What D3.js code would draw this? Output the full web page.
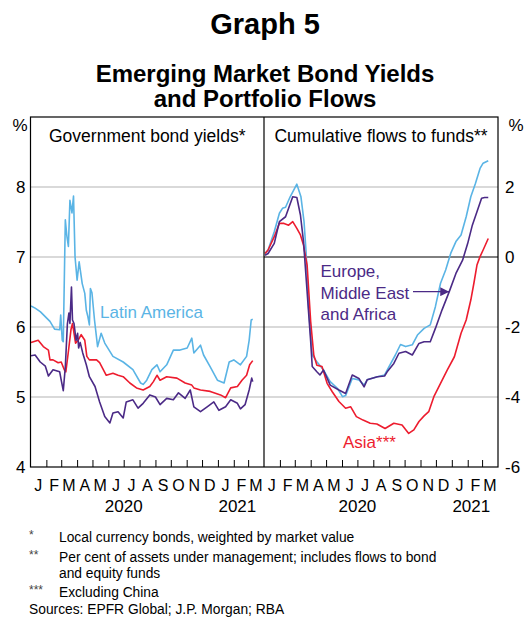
<!DOCTYPE html>
<html><head><meta charset="utf-8">
<script src="https://cdn.jsdelivr.net/npm/d3@7"></script>
<style>body{margin:0;background:#fff} svg{display:block} text{font-family:"Liberation Sans",Arial,Helvetica,sans-serif}</style>
</head><body><svg id="c" width="530" height="623"></svg>
<script>
// ---------- data ----------
const monthLetters = ["J","F","M","A","M","J","J","A","S","O","N","D","J","F","M"];
const yearLabels = [["2020","2020-07-01"],["2021","2021-02-08"]];
const yieldTicks = [4,5,6,7,8];
const flowTicks = [-6,-4,-2,0,2];

// Government bond yields (%)
const latamYield = [["2020-01-02",6.30],["2020-01-10",6.27],["2020-01-20",6.22],["2020-02-08",6.08],["2020-02-17",5.97],["2020-02-27",5.96],["2020-02-29",6.17],["2020-03-03",5.81],["2020-03-05",5.79],["2020-03-09",7.53],["2020-03-12",7.30],["2020-03-15",7.15],["2020-03-18",7.81],["2020-03-22",7.63],["2020-03-25",7.87],["2020-03-28",7.00],["2020-04-01",6.67],["2020-04-05",6.93],["2020-04-11",6.62],["2020-04-16",6.48],["2020-04-19",6.24],["2020-04-22",6.15],["2020-04-25",6.03],["2020-04-27",6.55],["2020-04-30",6.49],["2020-05-05",6.10],["2020-05-11",5.72],["2020-05-18",5.91],["2020-05-25",5.77],["2020-06-10",5.58],["2020-06-30",5.50],["2020-07-19",5.39],["2020-08-03",5.20],["2020-08-08",5.18],["2020-08-15",5.24],["2020-08-25",5.39],["2020-09-04",5.46],["2020-09-10",5.36],["2020-09-23",5.46],["2020-10-06",5.67],["2020-10-19",5.67],["2020-11-02",5.70],["2020-11-11",5.84],["2020-11-15",5.63],["2020-11-28",5.74],["2020-12-04",5.60],["2020-12-17",5.43],["2020-12-31",5.24],["2021-01-13",5.20],["2021-01-23",5.50],["2021-02-01",5.53],["2021-02-14",5.46],["2021-02-26",5.58],["2021-03-03",5.81],["2021-03-07",6.10],["2021-03-10",6.11]];
const asiaYield = [["2020-01-02",5.78],["2020-01-16",5.81],["2020-01-26",5.72],["2020-02-05",5.67],["2020-02-08",5.53],["2020-02-14",5.53],["2020-02-24",5.49],["2020-03-01",5.50],["2020-03-07",5.39],["2020-03-10",5.36],["2020-03-15",5.65],["2020-03-20",5.96],["2020-03-23",6.05],["2020-03-29",5.77],["2020-04-03",5.81],["2020-04-09",5.89],["2020-04-16",5.81],["2020-04-20",5.58],["2020-04-25",5.53],["2020-05-09",5.53],["2020-05-15",5.49],["2020-05-28",5.31],["2020-06-10",5.34],["2020-06-20",5.31],["2020-06-30",5.29],["2020-07-13",5.20],["2020-07-26",5.13],["2020-08-08",5.10],["2020-08-21",5.15],["2020-08-28",5.22],["2020-09-04",5.31],["2020-09-10",5.24],["2020-09-23",5.29],["2020-10-13",5.27],["2020-10-29",5.20],["2020-11-11",5.17],["2020-11-15",5.13],["2020-11-28",5.10],["2020-12-17",5.08],["2021-01-06",5.03],["2021-01-16",4.99],["2021-01-26",5.13],["2021-02-08",5.15],["2021-02-17",5.24],["2021-02-26",5.31],["2021-03-04",5.46],["2021-03-10",5.52]];
const emeaYield = [["2020-01-02",5.59],["2020-01-10",5.60],["2020-01-20",5.50],["2020-01-30",5.44],["2020-02-05",5.30],["2020-02-14",5.39],["2020-02-27",5.36],["2020-03-01",5.24],["2020-03-05",5.09],["2020-03-09",5.43],["2020-03-13",6.04],["2020-03-16",6.20],["2020-03-18",6.05],["2020-03-21",6.57],["2020-03-23",6.10],["2020-03-26",6.05],["2020-03-30",5.81],["2020-04-02",5.91],["2020-04-04",5.70],["2020-04-07",5.78],["2020-04-12",5.63],["2020-04-19",5.46],["2020-04-25",5.29],["2020-05-06",5.15],["2020-05-15",4.93],["2020-05-25",4.72],["2020-06-04",4.63],["2020-06-10",4.77],["2020-06-20",4.79],["2020-06-30",4.70],["2020-07-06",4.93],["2020-07-19",4.96],["2020-07-29",4.84],["2020-08-08",4.91],["2020-08-21",5.03],["2020-09-01",5.00],["2020-09-10",4.89],["2020-09-23",4.98],["2020-10-06",4.96],["2020-10-16",5.06],["2020-10-29",4.98],["2020-11-08",5.10],["2020-11-15",4.86],["2020-11-28",4.79],["2020-12-11",4.86],["2020-12-24",4.93],["2021-01-03",4.81],["2021-01-16",4.86],["2021-01-26",4.96],["2021-02-08",4.91],["2021-02-14",4.83],["2021-02-23",4.89],["2021-03-03",5.10],["2021-03-08",5.27],["2021-03-10",5.22]];

// Cumulative flows to funds (% of AUM)
const latamFlow = [["2020-01-03",0.10],["2020-01-09",0.20],["2020-01-21",0.72],["2020-01-31",1.25],["2020-02-06",1.39],["2020-02-12",1.42],["2020-02-21",1.72],["2020-03-05",2.08],["2020-03-13",1.72],["2020-03-19",1.01],["2020-03-23",0.15],["2020-03-28",-1.47],["2020-04-04",-2.80],["2020-04-13",-2.99],["2020-04-26",-3.23],["2020-05-09",-3.56],["2020-05-23",-3.75],["2020-06-02",-3.99],["2020-06-08",-3.96],["2020-06-21",-3.47],["2020-07-04",-3.51],["2020-07-14",-3.66],["2020-07-20",-3.51],["2020-08-09",-3.42],["2020-08-23",-3.37],["2020-09-13",-2.80],["2020-09-23",-2.50],["2020-10-03",-2.56],["2020-10-16",-2.51],["2020-10-26",-2.23],["2020-11-08",-2.04],["2020-11-20",-1.94],["2020-11-30",-1.42],["2020-12-10",-0.75],["2020-12-20",-0.37],["2020-12-30",0.11],["2021-01-09",0.44],["2021-01-19",0.63],["2021-01-29",1.15],["2021-02-07",1.72],["2021-02-16",2.10],["2021-02-25",2.53],["2021-03-03",2.68],["2021-03-13",2.75]];
const asiaFlow = [["2020-01-03",0.10],["2020-01-09",0.20],["2020-01-21",0.58],["2020-01-31",0.96],["2020-02-09",0.96],["2020-02-18",0.91],["2020-02-26",1.01],["2020-03-05",0.82],["2020-03-12",0.63],["2020-03-18",0.34],["2020-03-25",-0.23],["2020-04-01",-1.85],["2020-04-07",-2.80],["2020-04-13",-3.09],["2020-04-23",-3.13],["2020-05-03",-3.61],["2020-05-13",-3.85],["2020-05-26",-4.13],["2020-06-08",-4.32],["2020-06-18",-4.28],["2020-06-29",-4.56],["2020-07-12",-4.66],["2020-07-26",-4.75],["2020-08-08",-4.77],["2020-08-24",-4.90],["2020-09-10",-4.75],["2020-09-26",-4.80],["2020-10-09",-5.04],["2020-10-19",-4.94],["2020-10-29",-4.70],["2020-11-08",-4.54],["2020-11-17",-4.42],["2020-11-27",-3.99],["2020-12-10",-3.61],["2020-12-23",-3.23],["2021-01-06",-2.85],["2021-01-19",-2.18],["2021-01-29",-1.80],["2021-02-07",-1.23],["2021-02-13",-0.75],["2021-02-19",-0.23],["2021-02-25",0.01],["2021-03-03",0.20],["2021-03-13",0.53]];
const emeaFlow = [["2020-01-03",0.05],["2020-01-09",0.10],["2020-01-21",0.39],["2020-01-31",1.01],["2020-02-12",1.15],["2020-02-26",1.72],["2020-03-05",1.70],["2020-03-12",1.20],["2020-03-18",0.44],["2020-03-25",-0.99],["2020-04-01",-2.42],["2020-04-04",-3.13],["2020-04-13",-3.28],["2020-04-19",-3.37],["2020-04-26",-3.23],["2020-05-09",-3.66],["2020-05-26",-3.80],["2020-06-08",-3.90],["2020-06-21",-3.37],["2020-07-04",-3.47],["2020-07-14",-3.71],["2020-07-20",-3.51],["2020-08-09",-3.42],["2020-08-23",-3.40],["2020-08-28",-3.28],["2020-09-10",-3.04],["2020-09-20",-2.75],["2020-10-03",-2.70],["2020-10-16",-2.80],["2020-10-29",-2.47],["2020-11-08",-2.42],["2020-11-20",-2.42],["2020-11-30",-2.04],["2020-12-13",-1.51],["2020-12-27",-0.99],["2021-01-09",-0.47],["2021-01-22",-0.09],["2021-02-01",0.39],["2021-02-10",0.91],["2021-02-19",1.29],["2021-02-28",1.68],["2021-03-06",1.70],["2021-03-13",1.70]];

const footnotes = [
  ["*", "Local currency bonds, weighted by market value"],
  ["**", "Per cent of assets under management; includes flows to bond"],
  ["", "and equity funds"],
  ["***", "Excluding China"]
];
const sourceText = "Sources: EPFR Global; J.P. Morgan; RBA";

// ---------- layout ----------
const C = {blue:"#5AB4E5", red:"#ED1C2E", purple:"#4B2A86", grid:"#B3B3B3"};
const T = 117, B = 467, L0 = 30.5, MID = 264, R1 = 498;
const parse = d3.timeParse("%Y-%m-%d");
const svg = d3.select("#c");

const xL = d3.scaleTime().domain([parse("2020-01-01"), parse("2021-04-01")]).range([L0, MID]);
const xR = xL.copy().range([MID, R1]);
const yL = d3.scaleLinear().domain([4, 9]).range([B, T]);
const yR = d3.scaleLinear().domain([-6, 4]).range([B, T]);

// titles
svg.append("text").attr("x", 265).attr("y", 34).attr("text-anchor","middle")
  .attr("font-size", 29).attr("font-weight","bold").text("Graph 5");
svg.append("text").attr("x", 265).attr("y", 82).attr("text-anchor","middle")
  .attr("font-size", 24).attr("font-weight","bold").text("Emerging Market Bond Yields");
svg.append("text").attr("x", 265).attr("y", 107).attr("text-anchor","middle")
  .attr("font-size", 24).attr("font-weight","bold").text("and Portfolio Flows");

// gridlines
svg.append("g").selectAll("line").data(yieldTicks.filter(d => d > 4)).join("line")
  .attr("x1", L0).attr("x2", MID).attr("y1", d => yL(d)).attr("y2", d => yL(d))
  .attr("stroke", C.grid).attr("stroke-width", 1);
svg.append("g").selectAll("line").data(flowTicks.filter(d => d > -6)).join("line")
  .attr("x1", MID).attr("x2", R1).attr("y1", d => yR(d)).attr("y2", d => yR(d))
  .attr("stroke", d => d === 0 ? "#000" : C.grid).attr("stroke-width", 1);

// lines
const lineL = d3.line().x(d => xL(parse(d[0]))).y(d => yL(d[1]));
const lineR = d3.line().x(d => xR(parse(d[0]))).y(d => yR(d[1]));
[[latamYield, C.blue], [asiaYield, C.red], [emeaYield, C.purple]].forEach(([data, col]) => {
  svg.append("path").attr("d", lineL(data)).attr("fill","none").attr("stroke", col)
    .attr("stroke-width", 1.6).attr("stroke-linejoin","round");
});
[[latamFlow, C.blue], [asiaFlow, C.red], [emeaFlow, C.purple]].forEach(([data, col]) => {
  svg.append("path").attr("d", lineR(data)).attr("fill","none").attr("stroke", col)
    .attr("stroke-width", 1.6).attr("stroke-linejoin","round");
});

// frame
svg.append("rect").attr("x", L0).attr("y", T).attr("width", R1 - L0).attr("height", B - T)
  .attr("fill","none").attr("stroke","#000").attr("stroke-width", 1.2);
svg.append("line").attr("x1", MID).attr("x2", MID).attr("y1", T).attr("y2", B)
  .attr("stroke","#000").attr("stroke-width", 1.2);

// month ticks
const monthStarts = d3.timeMonth.range(parse("2020-02-01"), parse("2021-04-01"));
[xL, xR].forEach(x => {
  const ax = svg.append("g").attr("transform", `translate(0,${B})`)
    .call(d3.axisBottom(x).tickValues(monthStarts).tickSize(-7).tickFormat(""));
  ax.select(".domain").remove();
  ax.selectAll(".tick line").attr("stroke","#000").attr("stroke-width", 1);
  const months = d3.timeMonth.range(parse("2020-01-01"), parse("2021-04-01"));
  svg.append("g").selectAll("text").data(months).join("text")
    .attr("x", d => x(d3.timeDay.offset(d, 15))).attr("y", 491)
    .attr("text-anchor","middle").attr("font-size", 16)
    .text((d, i) => monthLetters[i]);
  svg.append("g").selectAll("text").data(yearLabels).join("text")
    .attr("x", d => x(parse(d[1]))).attr("y", 512)
    .attr("text-anchor","middle").attr("font-size", 17)
    .text(d => d[0]);
});

// y axes labels
const axL = svg.append("g").attr("transform", `translate(${L0},0)`)
  .call(d3.axisLeft(yL).tickValues(yieldTicks).tickSize(0).tickPadding(5).tickFormat(d => String(d)));
axL.select(".domain").remove();
axL.selectAll("text").attr("font-size", 17).attr("font-family", null);
const axR = svg.append("g").attr("transform", `translate(${R1},0)`)
  .call(d3.axisRight(yR).tickValues(flowTicks).tickSize(0).tickPadding(7).tickFormat(d => String(d)));
axR.select(".domain").remove();
axR.selectAll("text").attr("font-size", 17).attr("font-family", null);

svg.append("text").attr("x", 20).attr("y", 131).attr("text-anchor","middle").attr("font-size", 17).text("%");
svg.append("text").attr("x", 516).attr("y", 131).attr("text-anchor","middle").attr("font-size", 17).text("%");

// panel titles
svg.append("text").attr("x", (L0 + MID) / 2).attr("y", 142).attr("text-anchor","middle")
  .attr("font-size", 17.5).text("Government bond yields*");
svg.append("text").attr("x", (MID + R1) / 2).attr("y", 142).attr("text-anchor","middle")
  .attr("font-size", 17.5).text("Cumulative flows to funds**");

// series labels
svg.append("text").attr("x", 100).attr("y", 318).attr("font-size", 17).attr("fill", C.blue).text("Latin America");
svg.append("text").attr("x", 343).attr("y", 448).attr("font-size", 17).attr("fill", C.red).text("Asia***");
const em = svg.append("text").attr("font-size", 17).attr("fill", C.purple);
[["Europe,", 277], ["Middle East", 298.5], ["and Africa", 320]].forEach(([t, y]) =>
  em.append("tspan").attr("x", 320.5).attr("y", y).text(t));

// arrow to EMEA line
const arrowTip = [xR(parse("2020-12-27")), yR(-0.99)];
svg.append("defs").append("marker").attr("id","ah").attr("viewBox","0 0 10 10")
  .attr("refX", 10).attr("refY", 5).attr("markerWidth", 16).attr("markerHeight", 9)
  .attr("markerUnits","userSpaceOnUse").attr("orient","auto")
  .append("path").attr("d","M0,0L10,5L0,10z").attr("fill", C.purple);
svg.append("line").attr("x1", 413).attr("y1", arrowTip[1]).attr("x2", arrowTip[0]).attr("y2", arrowTip[1])
  .attr("stroke", C.purple).attr("stroke-width", 1.3).attr("marker-end","url(#ah)");

// footnotes
const fy = [541.5, 561.5, 577.5, 596.5];
footnotes.forEach(([m, t], i) => {
  svg.append("text").attr("x", 29).attr("y", fy[i] - 3).attr("font-size", 12).attr("fill","#444").text(m);
  svg.append("text").attr("x", 59).attr("y", fy[i]).attr("font-size", 13.8).text(t);
});
svg.append("text").attr("x", 29).attr("y", 614).attr("font-size", 13.8).text(sourceText);
</script></body></html>
